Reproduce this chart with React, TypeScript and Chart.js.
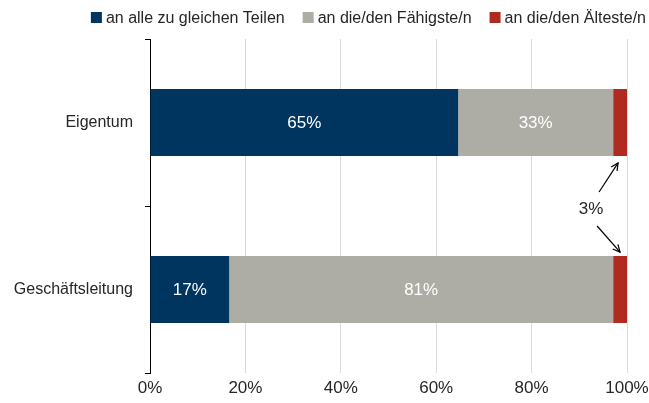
import React, { useEffect, useRef } from "react";
import { Chart, registerables } from "chart.js";

Chart.register(...registerables);

const categories = ["Eigentum", "Geschäftsleitung"];
const seriesNames = ["an alle zu gleichen Teilen", "an die/den Fähigste/n", "an die/den Älteste/n"];
const equalShares = [64.6, 16.6];
const mostCapable = [32.5, 80.5];
const oldest = [2.9, 2.9];
const xTickValues = [0, 20, 40, 60, 80, 100];
const seriesColors = ["#003560", "#ADADA6", "#B02A20"];
const annotationLabel = "3%";

const FONT = '"Liberation Sans", Arial, Helvetica, sans-serif';
const TEXT = "#262626";

const legendPlugin = {
  id: "customLegend",
  afterDraw(chart: any) {
    const ctx = chart.ctx;
    ctx.save();
    ctx.font = `16px ${FONT}`;
    ctx.textBaseline = "alphabetic";
    const box = 11;
    const boxGap = 4;
    const itemGap = 18;
    const ds = chart.data.datasets;
    const widths = ds.map((d: any) => box + boxGap + ctx.measureText(d.label).width);
    const total = widths.reduce((a: number, b: number) => a + b, 0) + itemGap * (ds.length - 1);
    let x = chart.width - 3 - total;
    const baseline = 23;
    ds.forEach((d: any, i: number) => {
      ctx.fillStyle = d.backgroundColor;
      ctx.fillRect(x, baseline - 11, box, box);
      ctx.fillStyle = TEXT;
      ctx.textAlign = "left";
      ctx.fillText(d.label, x + box + boxGap, baseline);
      x += widths[i] + itemGap;
    });
    ctx.restore();
  },
};

const barLabelPlugin = {
  id: "barLabels",
  afterDatasetsDraw(chart: any) {
    const ctx = chart.ctx;
    ctx.save();
    ctx.font = `17px ${FONT}`;
    ctx.fillStyle = "#FFFFFF";
    ctx.textAlign = "center";
    ctx.textBaseline = "middle";
    [0, 1].forEach((di) => {
      const meta = chart.getDatasetMeta(di);
      meta.data.forEach((el: any, i: number) => {
        const v = chart.data.datasets[di].data[i];
        const cx = (el.x + el.base) / 2;
        ctx.fillText(`${Math.round(v)}%`, cx, el.y + 1);
      });
    });
    ctx.restore();
  },
};

function arrow(ctx: any, x1: number, y1: number, x2: number, y2: number) {
  ctx.beginPath();
  ctx.moveTo(x1, y1);
  ctx.lineTo(x2, y2);
  ctx.stroke();
  const ang = Math.atan2(y2 - y1, x2 - x1);
  const len = 8;
  const spread = 0.45;
  ctx.beginPath();
  ctx.moveTo(x2 - len * Math.cos(ang - spread), y2 - len * Math.sin(ang - spread));
  ctx.lineTo(x2, y2);
  ctx.lineTo(x2 - len * Math.cos(ang + spread), y2 - len * Math.sin(ang + spread));
  ctx.stroke();
}

const annotationPlugin = {
  id: "oldestAnnotation",
  afterDraw(chart: any) {
    const meta = chart.getDatasetMeta(2);
    const top = meta.data[0];
    const bottom = meta.data[1];
    if (!top || !bottom) return;
    const ctx = chart.ctx;
    const topCx = (top.x + top.base) / 2;
    const botCx = (bottom.x + bottom.base) / 2;
    const topBottomEdge = top.y + top.height / 2;
    const botTopEdge = bottom.y - bottom.height / 2;
    const tx = topCx - 29;
    const ty = (topBottomEdge + botTopEdge) / 2 + 3;
    ctx.save();
    ctx.font = `17px ${FONT}`;
    ctx.fillStyle = TEXT;
    ctx.textAlign = "center";
    ctx.textBaseline = "middle";
    ctx.fillText(annotationLabel, tx, ty);
    ctx.strokeStyle = "#000";
    ctx.lineWidth = 1.2;
    arrow(ctx, tx + 8, ty - 17, topCx - 2, topBottomEdge + 7);
    arrow(ctx, tx + 6, ty + 17, botCx, botTopEdge - 4);
    ctx.restore();
  },
};

export default function App() {
  const ref = useRef<HTMLCanvasElement>(null);
  useEffect(() => {
    if (!ref.current) return;
    const dataSeries = [equalShares, mostCapable, oldest];
    const chart = new Chart(ref.current, {
      type: "bar",
      data: {
        labels: categories,
        datasets: dataSeries.map((d, i) => ({
          label: seriesNames[i],
          data: d,
          backgroundColor: seriesColors[i],
          borderWidth: 0,
          categoryPercentage: 1,
          barPercentage: 0.4,
        })),
      },
      options: {
        indexAxis: "y",
        responsive: false,
        animation: false,
        devicePixelRatio: 1,
        layout: { padding: { top: 39, right: 22, bottom: 0, left: 0 } },
        plugins: {
          legend: { display: false },
          tooltip: { enabled: false },
        },
        scales: {
          x: {
            stacked: true,
            min: 0,
            max: 100,
            afterBuildTicks: (scale: any) => {
              scale.ticks = xTickValues.map((v) => ({ value: v }));
            },
            afterFit: (scale: any) => {
              scale.height = 30;
              scale.paddingLeft = 0;
              scale.paddingRight = 0;
            },
            ticks: {
              callback: (v: any) => `${v}%`,
              font: { size: 17, family: FONT },
              color: TEXT,
              padding: 5,
              maxRotation: 0,
              autoSkip: false,
            },
            grid: {
              color: (c: any) => (c.index === 0 ? "rgba(0,0,0,0)" : "#D9D9D9"),
              drawTicks: false,
              lineWidth: 1,
            },
            border: { display: false },
          },
          y: {
            stacked: true,
            z: 1,
            afterFit: (scale: any) => {
              scale.width = 150;
            },
            ticks: {
              font: { size: 16, family: FONT },
              color: TEXT,
              padding: 12,
            },
            grid: {
              offset: true,
              drawOnChartArea: false,
              drawTicks: true,
              tickLength: 5,
              color: "#000",
            },
            border: { display: true, color: "#000", width: 1 },
          },
        },
      },
      plugins: [legendPlugin, barLabelPlugin, annotationPlugin],
    } as any);
    return () => chart.destroy();
  }, []);
  return (
    <div style={{ position: "fixed", left: 0, top: 0, width: 649, height: 403, background: "#fff" }}>
      <canvas ref={ref} width={649} height={403} />
    </div>
  );
}
